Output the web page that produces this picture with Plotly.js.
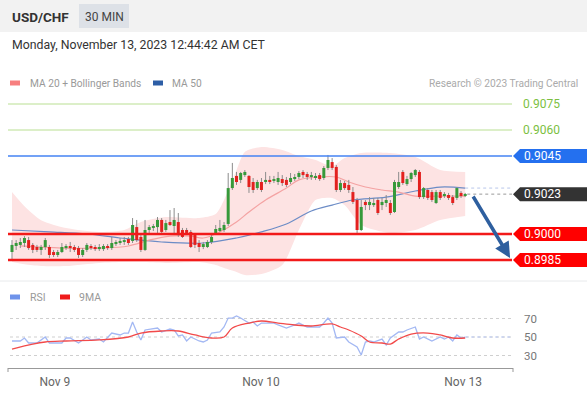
<!DOCTYPE html>
<html><head><meta charset="utf-8">
<script src="https://cdn.plot.ly/plotly-3.0.1.min.js"></script>
<style>html,body{margin:0;padding:0;background:#fff;}#chart{width:587px;height:394px;}</style>
</head><body><div id="chart"></div>
<script>
// ---- DATA (USD/CHF, 30 min candles) ----
const openP = [
.89896,.89931,.89937,.89948,.89965,.89937,.89925,.89908,.89925,.89925,
.89896,.89879,.89896,.89919,.89931,.89925,.89919,.89879,.89908,.89931,
.89925,.89913,.89913,.89931,.89919,.89942,.89948,.89954,.89971,.89960,
.90040,.89983,.89908,.90023,.90035,.90040,.90081,.90023,.90069,.90046,
.90069,.90023,.90023,.90012,.89994,.89948,.89925,.89925,.89954,.90000,
.90017,.90023,.90058,.90265,.90335,.90312,.90340,.90335,.90300,.90265,
.90300,.90300,.90312,.90306,.90300,.90317,.90312,.90300,.90317,.90329,
.90358,.90346,.90329,.90323,.90340,.90323,.90381,.90415,.90387,.90254,
.90294,.90283,.90242,.90196,.90023,.90185,.90167,.90167,.90196,.90167,
.90179,.90179,.90127,.90271,.90358,.90288,.90317,.90340,.90358,.90213,
.90254,.90242,.90179,.90242,.90219,.90225,.90213,.90208,.90237,.90219];
const highP = [
.89965,.89965,.89977,.89988,.89983,.89948,.89937,.89937,.89977,.89937,
.89908,.89908,.89948,.89942,.89954,.89937,.89931,.89919,.89948,.89942,
.89937,.89942,.89942,.89942,.89983,.89965,.89977,.89983,.89983,.90092,
.90081,.89994,.90081,.90052,.90058,.90098,.90092,.90081,.90138,.90150,
.90121,.90035,.90035,.90023,.90006,.89965,.89954,.89965,.90006,.90052,
.90081,.90069,.90352,.90410,.90358,.90358,.90369,.90340,.90323,.90312,
.90323,.90358,.90335,.90335,.90358,.90340,.90329,.90352,.90346,.90363,
.90369,.90358,.90358,.90352,.90352,.90392,.90456,.90438,.90398,.90312,
.90306,.90312,.90271,.90208,.90196,.90196,.90213,.90208,.90208,.90208,
.90225,.90196,.90312,.90358,.90369,.90335,.90358,.90375,.90369,.90271,
.90265,.90254,.90254,.90254,.90242,.90237,.90225,.90271,.90248,.90237];
const lowP = [
.89850,.89908,.89919,.89925,.89908,.89890,.89896,.89879,.89908,.89862,
.89867,.89867,.89890,.89908,.89896,.89896,.89862,.89867,.89896,.89908,
.89902,.89902,.89902,.89908,.89908,.89931,.89937,.89937,.89937,.89948,
.89954,.89896,.89902,.90006,.90017,.90006,.90006,.90012,.90046,.89994,
.89983,.89977,.89994,.89919,.89919,.89896,.89913,.89919,.89942,.89994,
.90012,.90012,.90046,.90254,.90283,.90294,.90329,.90237,.90237,.90254,
.90242,.90288,.90288,.90294,.90283,.90277,.90271,.90288,.90306,.90317,
.90323,.90312,.90312,.90312,.90306,.90312,.90369,.90369,.90242,.90242,
.90254,.90237,.90173,.90006,.90017,.90138,.90138,.90156,.90110,.90138,
.90156,.90110,.90121,.90260,.90283,.90277,.90300,.90329,.90202,.90202,
.90196,.90185,.90173,.90196,.90208,.90196,.90167,.90196,.90208,.90213];
const closeP = [
.89937,.89948,.89954,.89977,.89919,.89908,.89908,.89925,.89965,.89879,
.89879,.89896,.89925,.89931,.89919,.89908,.89879,.89908,.89937,.89919,
.89913,.89925,.89931,.89919,.89948,.89954,.89960,.89965,.89948,.90052,
.89965,.89908,.90023,.90040,.90046,.90081,.90012,.90063,.90052,.90081,
.89994,.89983,.90006,.89925,.89937,.89925,.89942,.89954,.89983,.90029,
.90035,.90052,.90265,.90323,.90300,.90352,.90358,.90271,.90254,.90300,
.90254,.90312,.90300,.90317,.90323,.90294,.90283,.90323,.90329,.90352,
.90340,.90329,.90340,.90335,.90317,.90381,.90427,.90381,.90254,.90294,
.90265,.90254,.90185,.90023,.90156,.90167,.90185,.90179,.90121,.90185,
.90196,.90121,.90300,.90300,.90294,.90317,.90352,.90369,.90213,.90265,
.90208,.90196,.90242,.90208,.90231,.90208,.90179,.90265,.90219,.90231];

// Bollinger bands (sampled at candle index)
const bbIdx   = [0,3,7,13,21,27,31,37,45,49,51,54,56,60,65,69,73,77,80,84,91,97,103,109];
const bbUpper = [.90242,.90160,.90080,.90035,.90012,.90023,.90069,.90098,.90092,.90115,.90196,.90369,.90473,.90502,.90485,.90450,.90427,.90392,.90438,.90467,.90467,.90444,.90369,.90358];
const bbLower = [.89838,.89825,.89815,.89815,.89833,.89838,.89838,.89833,.89838,.89821,.89804,.89781,.89763,.89769,.89821,.90023,.90196,.90208,.90167,.90052,.90006,.90023,.90081,.90104];
// MA 20
const ma20Idx = [2,12,21,28,33,38,43,46,50,54,57,61,66,69,74,78,81,85,89,93,97,103,109];
const ma20Val = [.89931,.89919,.89919,.89931,.89965,.89988,.89988,.89977,.90012,.90069,.90127,.90196,.90265,.90312,.90329,.90329,.90300,.90271,.90254,.90242,.90219,.90219,.90219];
// MA 50
const ma50Idx = [0,9,18,26,36,46,54,60,66,72,77,82,90,97,103,109];
const ma50Val = [.90023,.90012,.90000,.89977,.89954,.89948,.89977,.90012,.90058,.90133,.90167,.90196,.90213,.90248,.90271,.90265];
// RSI and its 9MA
const rsiIdx = [0,2,3,4,6,8,9,12,13,14,16,18,19,21,22,24,26,27,28,29,30,31,32,34,35,36,38,39,40,41,42,43,45,46,47,48,50,51,52,53,54,55,57,58,59,60,63,64,66,68,69,71,74,75,76,77,78,80,81,83,84,85,86,87,89,90,91,93,94,95,97,98,99,101,103,104,105,106,107,108,109];
const rsiVal = [45.7,45.7,48.9,43.5,43.5,50.0,43.5,43.5,48.9,48.9,43.5,50.0,46.8,47.8,44.6,54.3,52.2,54.3,54.3,66.2,55.4,46.8,57.6,58.6,59.7,55.4,58.6,57.6,51.1,52.2,45.7,50.0,45.7,44.6,46.8,54.3,55.4,60.8,70.5,70.5,72.7,70.5,65.1,66.2,61.9,65.1,65.1,63.0,59.7,63.0,65.1,60.8,60.8,65.1,70.5,65.1,48.9,50.0,44.6,39.2,30.5,44.6,45.7,44.6,47.8,41.4,48.9,55.4,55.4,57.6,60.8,47.8,50.0,45.7,50.0,47.8,50.0,45.7,52.2,48.9,50.0];
const rsiMaIdx = [0,5,8,13,21,28,31,36,40,44,48,51,53,57,60,64,68,72,77,79,81,84,86,89,91,93,96,100,103,106,109];
const rsiMaVal = [37.0,42.4,44.6,45.7,46.8,50.0,54.3,56.5,56.5,52.2,48.9,50.0,59.7,65.1,67.3,65.1,63.0,61.9,64.1,60.8,57.6,51.1,44.6,43.5,42.4,47.8,53.2,54.3,52.2,48.9,48.9];
const rsiLevels = [70, 50, 30];

// Key levels
const resistLevels = [0.9075, 0.9060];
const pivotLevel = 0.9045;
const lastPrice = 0.9023;
const supportLevels = [0.9000, 0.8985];
const targetLevel = 0.8985;

// X axis labels
const tickPos = [10.3, 59.9, 108.5];
const tickLabels = ['Nov 9', 'Nov 10', 'Nov 13'];

// ---- GEOMETRY ----
const W = 587, H = 394, ML = 8, MR = 74, MT = 92, MB = 26;
const PW = W - ML - MR, PH = H - MT - MB;
const px = x => (x - ML) / PW;
const py = y => (H - MB - y) / PH;
const XR = [-0.96, 120.5];
const ix = i => (i - XR[0]) / (XR[1] - XR[0]);
const YR = [0.897462, 0.908192];
const pricePerPx = (YR[1] - YR[0]) / (278 - 92);

const n = openP.length;
const idx = openP.map((_, i) => i);
const wx = [], wy = [];
const ux = [], uy = [], dx = [], dy = [];
const minBody = 1.1 * pricePerPx;
idx.forEach(i => {
  wx.push(i, i, null); wy.push(lowP[i], highP[i], null);
  let lo = Math.min(openP[i], closeP[i]), hi = Math.max(openP[i], closeP[i]);
  if (hi - lo < minBody) { const m = (hi + lo) / 2; lo = m - minBody / 2; hi = m + minBody / 2; }
  if (closeP[i] >= openP[i]) { ux.push(i, i, null); uy.push(lo, hi, null); }
  else { dx.push(i, i, null); dy.push(lo, hi, null); }
});

const FONT = 'Roboto, Arial, sans-serif';

const traces = [
  {x: bbIdx, y: bbUpper, type: 'scatter', mode: 'lines', line: {width: 0, shape: 'spline', smoothing: 0.7}, hoverinfo: 'skip'},
  {x: bbIdx, y: bbLower, type: 'scatter', mode: 'lines', line: {width: 0, shape: 'spline', smoothing: 0.7}, fill: 'tonexty', fillcolor: '#fde3e3', hoverinfo: 'skip'},
  {x: ma50Idx, y: ma50Val, type: 'scatter', mode: 'lines', line: {color: '#6c8cc6', width: 1.2, shape: 'spline'}},
  {x: ma20Idx, y: ma20Val, type: 'scatter', mode: 'lines', line: {color: '#f4a3a3', width: 1.2, shape: 'spline'}},
  {x: wx, y: wy, type: 'scatter', mode: 'lines', line: {color: '#8c8c8c', width: 1}, connectgaps: false},
  {x: ux, y: uy, type: 'scatter', mode: 'lines', line: {color: '#36993a', width: 3}, connectgaps: false},
  {x: dx, y: dy, type: 'scatter', mode: 'lines', line: {color: '#e3211f', width: 3}, connectgaps: false},
  {x: rsiIdx, y: rsiVal, xaxis: 'x2', yaxis: 'y2', type: 'scatter', mode: 'lines', line: {color: '#a3b8f3', width: 1.3}},
  {x: rsiMaIdx, y: rsiMaVal, xaxis: 'x2', yaxis: 'y2', type: 'scatter', mode: 'lines', line: {color: '#f24a4a', width: 1.3, shape: 'spline'}}
];

const shapes = [];
const ann = [];
// header band
shapes.push({type: 'rect', xref: 'paper', yref: 'paper', x0: px(0), x1: px(587), y0: py(32), y1: py(0), fillcolor: '#f2f2f2', line: {width: 0}, layer: 'below'});
shapes.push({type: 'rect', xref: 'paper', yref: 'paper', x0: px(79), x1: px(129), y0: py(28), y1: py(4), fillcolor: '#dde1e7', line: {width: 0}, layer: 'below'});
// separator
shapes.push({type: 'line', xref: 'paper', yref: 'paper', x0: px(0), x1: px(587), y0: py(281), y1: py(281), line: {color: '#e8eaec', width: 1}});
// legend swatches
const sw = (x, y, c) => shapes.push({type: 'rect', xref: 'paper', yref: 'paper', x0: px(x), x1: px(x + 10), y0: py(y + 2.5), y1: py(y - 2.5), fillcolor: c, line: {width: 0}});
sw(10, 83, '#f77f7f'); sw(153, 83, '#2d5ea6'); sw(10, 297, '#6f93ea'); sw(60, 297, '#ef1b1b');

const txt = (x, y, t, size, color, anchor, extra) => ann.push(Object.assign({xref: 'paper', yref: 'paper', x: px(x), y: py(y), text: t, showarrow: false, xanchor: anchor || 'left', yanchor: 'middle', font: {family: FONT, size: size, color: color}}, extra || {}));
txt(10, 17, '<b>USD/CHF</b>', 13.5, '#333');
txt(104, 17, '30 MIN', 12, '#444', 'center');
txt(10, 45, 'Monday, November 13, 2023 12:44:42 AM CET', 12.3, '#333');
txt(28, 83, 'MA 20 + Bollinger Bands', 10.2, '#999');
txt(170, 83, 'MA 50', 10.2, '#999');
txt(580, 83, 'Research © 2023 Trading Central', 10.2, '#aaa', 'right');
txt(28, 297, 'RSI', 10.5, '#999');
txt(77, 297, '9MA', 10.5, '#999');

// level lines
resistLevels.forEach(v => {
  shapes.push({type: 'line', xref: 'paper', yref: 'y', x0: px(8), x1: px(512), y0: v, y1: v, line: {color: '#b9df92', width: 1}});
  ann.push({xref: 'paper', yref: 'y', x: px(521), y: v, text: v.toFixed(4), showarrow: false, xanchor: 'left', yanchor: 'middle', font: {family: FONT, size: 12, color: '#7cbf3f'}});
});
shapes.push({type: 'line', xref: 'paper', yref: 'y', x0: px(8), x1: px(512), y0: pivotLevel, y1: pivotLevel, line: {color: '#4583f3', width: 1.5}});
supportLevels.forEach(v => {
  shapes.push({type: 'line', xref: 'paper', yref: 'y', x0: px(8), x1: px(512), y0: v, y1: v, line: {color: '#f21a1a', width: 2.5}});
});
// current price dotted & MA50 extension
shapes.push({type: 'line', xref: 'paper', yref: 'y', x0: ix(n - 1 + 0.5), x1: px(512), y0: lastPrice, y1: lastPrice, line: {color: '#999', width: 1, dash: 'dot'}});
shapes.push({type: 'line', xref: 'paper', yref: 'y', x0: ix(n - 1), x1: px(512), y0: ma50Val[ma50Val.length - 1], y1: ma50Val[ma50Val.length - 1], line: {color: '#b8c6ea', width: 1, dash: 'dot'}});

// tags
const h = 7 * pricePerPx;
const tag = (v, col) => {
  shapes.push({type: 'path', xref: 'paper', yref: 'y', path: `M ${px(513)},${v} L ${px(520)},${v + h} L ${px(587)},${v + h} L ${px(587)},${v - h} L ${px(520)},${v - h} Z`, fillcolor: col, line: {width: 0}});
  ann.push({xref: 'paper', yref: 'y', x: px(522), y: v, text: v.toFixed(4), showarrow: false, xanchor: 'left', yanchor: 'middle', font: {family: FONT, size: 12, color: '#fff'}});
};
tag(pivotLevel, '#2470ef');
tag(lastPrice, '#333333');
supportLevels.forEach(v => tag(v, '#ff0000'));

// RSI grid
rsiLevels.forEach(v => {
  shapes.push({type: 'line', xref: 'paper', yref: 'y2', x0: px(10), x1: px(513), y0: v, y1: v, line: {color: '#cfcfcf', width: 1, dash: 'dot'}, layer: 'below'});
  ann.push({xref: 'paper', yref: 'y2', x: px(522), y: v, text: String(v), showarrow: false, xanchor: 'left', yanchor: 'middle', font: {family: FONT, size: 11.5, color: '#777'}});
});
shapes.push({type: 'line', xref: 'paper', yref: 'y2', x0: ix(rsiIdx[rsiIdx.length - 1]), x1: px(513), y0: rsiVal[rsiVal.length - 1], y1: rsiVal[rsiVal.length - 1], line: {color: '#b7c6f2', width: 1, dash: 'dot'}});
// x axis end ticks
[8, 513].forEach(x => shapes.push({type: 'line', xref: 'paper', yref: 'paper', x0: px(x), x1: px(x), y0: py(368), y1: py(372), line: {color: '#999', width: 1}}));

// forecast arrow
ann.push({xref: 'x', yref: 'y', axref: 'x', ayref: 'y', x: 119.8, y: targetLevel + 2 * pricePerPx, ax: 110.7, ay: lastPrice - 0.00005, text: '', showarrow: true, arrowhead: 2, arrowsize: 0.9, arrowwidth: 3.5, arrowcolor: '#2e5f9f', standoff: 0});

const layout = {
  width: W, height: H, margin: {l: ML, r: MR, t: MT, b: MB, pad: 0},
  paper_bgcolor: '#fff', plot_bgcolor: 'rgba(0,0,0,0)', showlegend: false,
  font: {family: FONT},
  xaxis: {domain: [0, 1], range: XR, anchor: 'y', visible: false, fixedrange: true},
  yaxis: {domain: [py(278), 1], range: YR, visible: false, fixedrange: true},
  xaxis2: {domain: [0, 1], range: XR, anchor: 'y2', showline: true, linecolor: '#999', linewidth: 1, tickvals: tickPos, ticktext: tickLabels, ticks: '', showgrid: false, zeroline: false, tickfont: {family: FONT, size: 12, color: '#666'}, ticklabelstandoff: 3, fixedrange: true},
  yaxis2: {domain: [0, py(300)], range: [16.5, 90], visible: false, fixedrange: true},
  shapes: shapes, annotations: ann
};
Plotly.newPlot('chart', traces, layout, {staticPlot: true, displayModeBar: false});
</script></body></html>
